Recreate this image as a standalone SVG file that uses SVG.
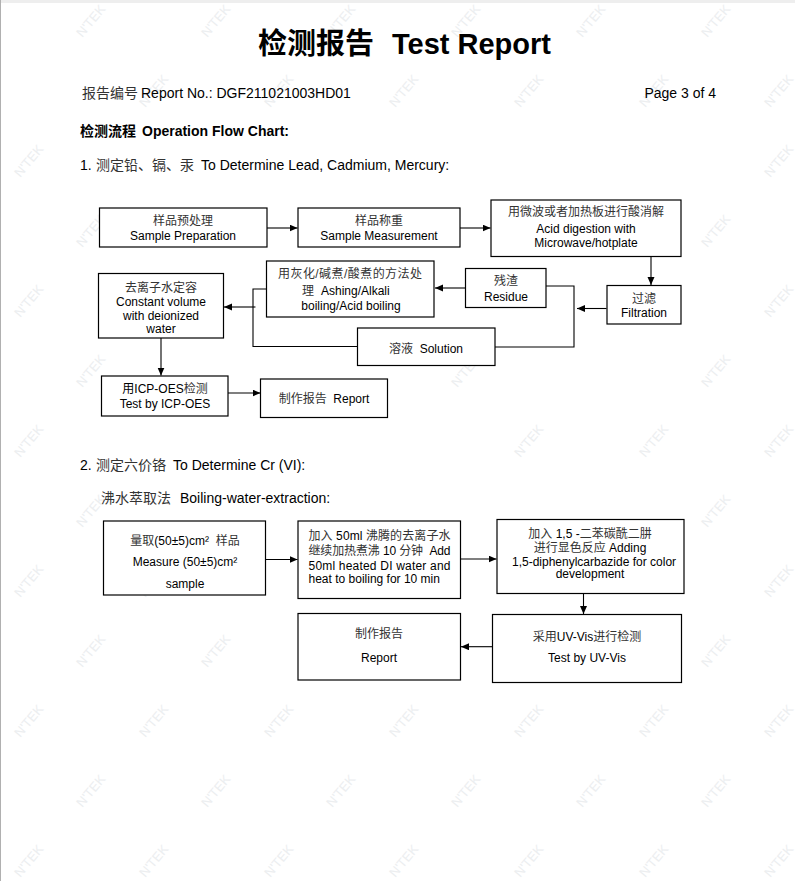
<svg xmlns="http://www.w3.org/2000/svg" xmlns:xlink="http://www.w3.org/1999/xlink" width="795" height="881" viewBox="0 0 795 881">
<style>
  .t { font-family: "Liberation Sans", "Noto Sans CJK SC", sans-serif; fill: #000; }
  .h { font-size: 14px; }
  .b { font-size: 12px; }
  .c { text-anchor: middle; }
  .zh { fill: #333; }
  .box { fill: #fff; stroke: #000; stroke-width: 1.2; }
  .ln { fill: none; stroke: #000; stroke-width: 1.1; }
  .wm { font-family: "Liberation Sans", sans-serif; font-size: 13px; fill: #eceef0; }
</style>
<defs>
  <marker id="arr" markerUnits="userSpaceOnUse" markerWidth="9" markerHeight="8" refX="8" refY="3.5" orient="auto">
    <path d="M0,0 L8,3.5 L0,7 Z" fill="#000"/>
  </marker>
  <text id="wm" class="wm" x="-20" y="4">N'TEK</text>
</defs>
<rect x="0" y="0" width="795" height="881" fill="#fff"/>
<rect x="0" y="0" width="795" height="3" fill="#eeeeee"/>
<line x1="0.5" y1="0" x2="0.5" y2="881" stroke="#b0b0b0" stroke-width="1"/>

<g id="watermark">
  <use xlink:href="#wm" transform="translate(92,20) rotate(-50)"/>
  <use xlink:href="#wm" transform="translate(217,20) rotate(-50)"/>
  <use xlink:href="#wm" transform="translate(342,20) rotate(-50)"/>
  <use xlink:href="#wm" transform="translate(467,20) rotate(-50)"/>
  <use xlink:href="#wm" transform="translate(592,20) rotate(-50)"/>
  <use xlink:href="#wm" transform="translate(717,20) rotate(-50)"/>
  <use xlink:href="#wm" transform="translate(155,90) rotate(-50)"/>
  <use xlink:href="#wm" transform="translate(280,90) rotate(-50)"/>
  <use xlink:href="#wm" transform="translate(405,90) rotate(-50)"/>
  <use xlink:href="#wm" transform="translate(530,90) rotate(-50)"/>
  <use xlink:href="#wm" transform="translate(655,90) rotate(-50)"/>
  <use xlink:href="#wm" transform="translate(780,90) rotate(-50)"/>
  <use xlink:href="#wm" transform="translate(30,160) rotate(-50)"/>
  <use xlink:href="#wm" transform="translate(780,160) rotate(-50)"/>
  <use xlink:href="#wm" transform="translate(92,230) rotate(-50)"/>
  <use xlink:href="#wm" transform="translate(717,230) rotate(-50)"/>
  <use xlink:href="#wm" transform="translate(30,300) rotate(-50)"/>
  <use xlink:href="#wm" transform="translate(780,300) rotate(-50)"/>
  <use xlink:href="#wm" transform="translate(92,370) rotate(-50)"/>
  <use xlink:href="#wm" transform="translate(467,370) rotate(-50)"/>
  <use xlink:href="#wm" transform="translate(717,370) rotate(-50)"/>
  <use xlink:href="#wm" transform="translate(30,440) rotate(-50)"/>
  <use xlink:href="#wm" transform="translate(530,440) rotate(-50)"/>
  <use xlink:href="#wm" transform="translate(655,440) rotate(-50)"/>
  <use xlink:href="#wm" transform="translate(780,440) rotate(-50)"/>
  <use xlink:href="#wm" transform="translate(92,510) rotate(-50)"/>
  <use xlink:href="#wm" transform="translate(717,510) rotate(-50)"/>
  <use xlink:href="#wm" transform="translate(30,580) rotate(-50)"/>
  <use xlink:href="#wm" transform="translate(155,580) rotate(-50)"/>
  <use xlink:href="#wm" transform="translate(780,580) rotate(-50)"/>
  <use xlink:href="#wm" transform="translate(92,650) rotate(-50)"/>
  <use xlink:href="#wm" transform="translate(217,650) rotate(-50)"/>
  <use xlink:href="#wm" transform="translate(717,650) rotate(-50)"/>
  <use xlink:href="#wm" transform="translate(30,720) rotate(-50)"/>
  <use xlink:href="#wm" transform="translate(155,720) rotate(-50)"/>
  <use xlink:href="#wm" transform="translate(280,720) rotate(-50)"/>
  <use xlink:href="#wm" transform="translate(405,720) rotate(-50)"/>
  <use xlink:href="#wm" transform="translate(530,720) rotate(-50)"/>
  <use xlink:href="#wm" transform="translate(655,720) rotate(-50)"/>
  <use xlink:href="#wm" transform="translate(780,720) rotate(-50)"/>
  <use xlink:href="#wm" transform="translate(92,790) rotate(-50)"/>
  <use xlink:href="#wm" transform="translate(217,790) rotate(-50)"/>
  <use xlink:href="#wm" transform="translate(342,790) rotate(-50)"/>
  <use xlink:href="#wm" transform="translate(467,790) rotate(-50)"/>
  <use xlink:href="#wm" transform="translate(592,790) rotate(-50)"/>
  <use xlink:href="#wm" transform="translate(717,790) rotate(-50)"/>
  <use xlink:href="#wm" transform="translate(30,860) rotate(-50)"/>
  <use xlink:href="#wm" transform="translate(155,860) rotate(-50)"/>
  <use xlink:href="#wm" transform="translate(280,860) rotate(-50)"/>
  <use xlink:href="#wm" transform="translate(405,860) rotate(-50)"/>
  <use xlink:href="#wm" transform="translate(530,860) rotate(-50)"/>
  <use xlink:href="#wm" transform="translate(655,860) rotate(-50)"/>
  <use xlink:href="#wm" transform="translate(780,860) rotate(-50)"/>
</g>

<g id="header">
  <text class="t" x="258" y="54" font-size="29" font-weight="bold">检测报告<tspan x="392">Test Report</tspan></text>
  <text class="t h" x="82" y="98"><tspan class="zh">报告编号</tspan><tspan x="141">Report No.: DGF211021003HD01</tspan></text>
  <text class="t h" x="716" y="98" text-anchor="end">Page 3 of 4</text>
  <text class="t h" x="80" y="136" font-weight="bold">检测流程<tspan x="142">Operation Flow Chart:</tspan></text>
  <text class="t h" x="80" y="170">1.<tspan class="zh" x="96">测定铅、镉、汞</tspan><tspan x="201">To Determine Lead, Cadmium, Mercury:</tspan></text>
  <text class="t h" x="80" y="470">2.<tspan class="zh" x="96">测定六价铬</tspan><tspan x="173">To Determine Cr (VI):</tspan></text>
  <text class="t h" x="101" y="503"><tspan class="zh">沸水萃取法</tspan><tspan x="180">Boiling-water-extraction:</tspan></text>
</g>

<g id="connectors">
  <path class="ln" d="M267,228 H297.5" marker-end="url(#arr)"/>
  <path class="ln" d="M460,228 H490.5" marker-end="url(#arr)"/>
  <path class="ln" d="M651,256.5 V285" marker-end="url(#arr)"/>
  <path class="ln" d="M606.5,308.5 H577" marker-end="url(#arr)"/>
  <path class="ln" d="M546,286 H574 V347 H495"/>
  <path class="ln" d="M465.5,288 H435" marker-end="url(#arr)"/>
  <path class="ln" d="M266.5,289 H253 V346.5 H357.5"/>
  <path class="ln" d="M255.5,307 H224" marker-end="url(#arr)"/>
  <path class="ln" d="M161,338 V375.5" marker-end="url(#arr)"/>
  <path class="ln" d="M228,393 H260.5" marker-end="url(#arr)"/>
  <path class="ln" d="M265.5,559.5 H297.5" marker-end="url(#arr)"/>
  <path class="ln" d="M460.5,559 H496.5" marker-end="url(#arr)"/>
  <path class="ln" d="M583.5,593.5 V614" marker-end="url(#arr)"/>
  <path class="ln" d="M492.5,646.7 H461" marker-end="url(#arr)"/>
</g>

<g id="sample-prep">
  <rect class="box" x="99.5" y="208" width="167.5" height="39"/>
  <text class="t b c zh" x="183" y="225">样品预处理</text>
  <text class="t b c" x="183" y="240">Sample Preparation</text>
</g>
<g id="sample-measure">
  <rect class="box" x="298" y="208" width="162" height="39"/>
  <text class="t b c zh" x="379" y="225">样品称重</text>
  <text class="t b c" x="379" y="240">Sample Measurement</text>
</g>
<g id="acid-digestion">
  <rect class="box" x="491" y="200" width="190" height="56.5"/>
  <text class="t b c zh" x="586" y="216">用微波或者加热板进行酸消解</text>
  <text class="t b c" x="586" y="232.5">Acid digestion with</text>
  <text class="t b c" x="586" y="246.5">Microwave/hotplate</text>
</g>
<g id="filtration">
  <rect class="box" x="607" y="285.5" width="74" height="38.5"/>
  <text class="t b c zh" x="644" y="303">过滤</text>
  <text class="t b c" x="644" y="317">Filtration</text>
</g>
<g id="residue">
  <rect class="box" x="465.5" y="268.5" width="80.5" height="39"/>
  <text class="t b c zh" x="506" y="285">残渣</text>
  <text class="t b c" x="506" y="301">Residue</text>
</g>
<g id="ashing">
  <rect class="box" x="266.5" y="261" width="167.5" height="56"/>
  <text class="t b zh" x="278" y="278" textLength="144" lengthAdjust="spacing">用灰化/碱煮/酸煮的方法处</text>
  <text class="t b" x="302" y="294.5"><tspan class="zh">理</tspan><tspan x="321">Ashing/Alkali</tspan></text>
  <text class="t b c" x="351" y="309.5">boiling/Acid boiling</text>
</g>
<g id="constant-volume">
  <rect class="box" x="98.5" y="273.5" width="125" height="64.5"/>
  <text class="t b c zh" x="161" y="292">去离子水定容</text>
  <text class="t b c" x="161" y="305.5">Constant volume</text>
  <text class="t b c" x="161" y="319.5">with deionized</text>
  <text class="t b c" x="161" y="333">water</text>
</g>
<g id="solution">
  <rect class="box" x="357.5" y="328" width="137.5" height="37.5"/>
  <text class="t b c" x="426" y="353"><tspan class="zh">溶液</tspan>&#160; Solution</text>
</g>
<g id="icp-oes">
  <rect class="box" x="101.5" y="376" width="126.5" height="40"/>
  <text class="t b c" x="165" y="393"><tspan>用ICP-OES</tspan><tspan class="zh">检测</tspan></text>
  <text class="t b c" x="165" y="408">Test by ICP-OES</text>
</g>
<g id="report-1">
  <rect class="box" x="260.5" y="379" width="127" height="38.5"/>
  <text class="t b c" x="324" y="403"><tspan class="zh">制作报告</tspan>&#160; Report</text>
</g>

<g id="measure-sample">
  <rect class="box" x="103.5" y="521" width="162" height="74"/>
  <text class="t b c" x="185" y="544.5"><tspan class="zh">量取</tspan>(50±5)cm²&#160; <tspan class="zh">样品</tspan></text>
  <text class="t b c" x="185" y="566">Measure (50±5)cm²</text>
  <text class="t b c" x="185" y="587.5">sample</text>
</g>
<g id="add-water">
  <rect class="box" x="298" y="521" width="162.5" height="77.5"/>
  <text class="t b" x="308.5" y="540" textLength="142" lengthAdjust="spacing"><tspan class="zh">加入</tspan> 50ml <tspan class="zh">沸腾的去离子水</tspan></text>
  <text class="t b" x="308.5" y="555" textLength="142" lengthAdjust="spacing"><tspan class="zh">继续加热煮沸</tspan> 10 <tspan class="zh">分钟</tspan>&#160; Add</text>
  <text class="t b" x="308.5" y="569.5" textLength="142" lengthAdjust="spacing">50ml heated DI water and</text>
  <text class="t b" x="308.5" y="583">heat to boiling for 10 min</text>
</g>
<g id="add-dpc">
  <rect class="box" x="497" y="519.5" width="187" height="74"/>
  <text class="t b c" x="590" y="538"><tspan class="zh">加入</tspan> 1,5 -<tspan class="zh">二苯碳酰二肼</tspan></text>
  <text class="t b c" x="590" y="552"><tspan class="zh">进行显色反应</tspan> Adding</text>
  <text class="t b c" x="594" y="565.5">1,5-diphenylcarbazide for color</text>
  <text class="t b c" x="590" y="578">development</text>
</g>
<g id="uv-vis">
  <rect class="box" x="492.5" y="614.5" width="189" height="68"/>
  <text class="t b c" x="587" y="640.5"><tspan class="zh">采用</tspan>UV-Vis<tspan class="zh">进行检测</tspan></text>
  <text class="t b c" x="587" y="662">Test by UV-Vis</text>
</g>
<g id="report-2">
  <rect class="box" x="298" y="613.5" width="162.5" height="66.5"/>
  <text class="t b c zh" x="379" y="638">制作报告</text>
  <text class="t b c" x="379" y="662">Report</text>
</g>
</svg>
